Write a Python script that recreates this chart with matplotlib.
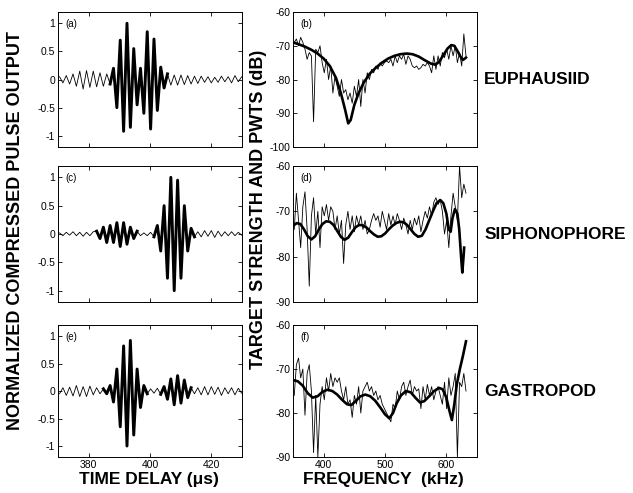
import matplotlib
matplotlib.use("Agg")
import matplotlib.pyplot as plt
import numpy as np

plt.rcParams['font.family'] = ['Liberation Sans', 'DejaVu Sans']
plt.rcParams['axes.unicode_minus'] = False
plt.rcParams['xtick.direction'] = 'in'
plt.rcParams['ytick.direction'] = 'in'
plt.rcParams['xtick.top'] = True
plt.rcParams['ytick.right'] = True

# ---- compressed pulse output (extrema every half cycle) ----
t_delay = 370.5 + 1.1 * np.arange(55)

pulse_a = [0.05, -0.06, 0.07, -0.08, 0.1, -0.12, 0.15, -0.17, 0.16, -0.14, 0.15, -0.13, 0.12, -0.12, 0.1, -0.08,
           0.2, -0.5, 0.7, -0.92, 1.0, -0.85, 0.55, -0.45, 0.2, -0.6, 0.85, -0.88, 0.72, -0.55, 0.22, -0.15,
           0.1, -0.1, 0.08, -0.1, 0.08, -0.09, 0.07, -0.08, 0.06, -0.07, 0.06, -0.05, 0.05, -0.06, 0.04, -0.05,
           0.06, -0.04, 0.05, -0.06, 0.07, -0.04, 0.05]
pulse_c = [0.02, -0.03, 0.03, -0.02, 0.04, -0.03, 0.03, -0.04, 0.03, -0.03, 0.04,
           0.05, -0.08, 0.12, -0.15, 0.15, -0.15, 0.2, -0.22, 0.2, -0.18, 0.12, -0.08, 0.05,
           -0.03, 0.02, -0.03, 0.03, -0.05,
           0.15, -0.3, 0.5, -0.78, 1.0, -1.0, 0.95, -0.78, 0.5, -0.3, 0.1, -0.05,
           0.04, -0.05, 0.06, -0.04, 0.06, -0.06, 0.05, -0.04, 0.04, -0.03, 0.04, -0.03, 0.03, -0.02]
pulse_e = [-0.05, 0.06, -0.08, 0.07, -0.09, 0.1, -0.1, 0.08, -0.1, 0.09, -0.07, 0.06, -0.05, 0.04,
           -0.05, 0.1, -0.2, 0.4, -0.65, 0.82, -1.0, 0.92, -0.8, 0.4, -0.3, 0.1, -0.05,
           0.04, -0.04, 0.05, -0.06,
           0.08, -0.15, 0.22, -0.25, 0.28, -0.22, 0.2, -0.12, 0.06,
           -0.05, 0.06, -0.07, 0.08, -0.07, 0.08, -0.06, 0.07, -0.08, 0.06, -0.05, 0.06, -0.07, 0.05, -0.04]
# index ranges drawn with the heavy line
thick_a = [(15, 32)]
thick_c = [(11, 23), (28, 40)]
thick_e = [(13, 26), (30, 39)]

# ---- target strength: measured (thin) ----
f_meas = 352 + 3.5 * np.arange(81)
ts_b = [-69, -68, -70, -67.5, -69, -71, -74, -72, -73, -92.5, -71, -72, -70, -75, -78, -74, -80, -76, -84, -79,
        -82, -85, -80, -84, -83, -86, -84, -87, -82, -85, -80, -88, -80, -84, -78, -80, -77, -78, -76, -77,
        -75, -76, -75, -74.5, -75, -74, -76, -73, -75, -73, -74, -72.5, -75.5, -73, -74, -76, -76.5, -76, -77, -76.5,
        -75.5, -76, -75, -76, -78, -73, -77, -73, -76, -72, -73.5, -71, -74, -70, -73, -70, -75, -72, -76, -66.5,
        -73]
ts_d = [-74, -66, -72, -78, -69, -65.7, -74, -86.5, -71, -67, -75, -70, -78, -69, -71, -68.5, -72, -69, -70, -74,
        -71, -75, -72, -81.5, -73, -70, -74, -71, -74.5, -71, -73, -71, -74, -72, -75, -74, -72, -70.5, -72, -71,
        -73.5, -70, -72, -74, -70.5, -73, -71, -73, -70.5, -72, -74, -71.5, -73, -75, -72, -74, -71.5, -73, -71, -74.5,
        -72, -70, -71.5, -69, -71, -68, -67, -68.5, -67.5, -70, -75, -72, -78, -71, -66, -69, -72, -60, -67, -64,
        -66]
ts_f = [-76, -69, -67.5, -72, -70, -80.5, -71, -69, -75, -89, -76, -90, -78, -74, -77, -72, -75, -71, -74, -72,
        -73, -72, -75, -77, -74, -78, -77, -81, -76, -78, -74, -80, -75, -74, -73, -75, -74, -76, -75, -77,
        -76, -78, -79, -80, -81, -82, -78, -79, -75, -77, -74, -73, -76, -74, -72.5, -76, -74, -75, -74.5, -79,
        -74, -77, -73.5, -76, -74, -77, -75, -74, -76, -78, -73, -79, -72, -76, -74, -71, -90, -73, -74, -71,
        -75]

# ---- target strength: model (thick) ----
f_mod_b = [350, 360, 370, 380, 390, 400, 410, 420, 428, 435, 440, 444, 450, 457, 465, 475, 485, 495, 505, 515,
           525, 535, 545, 555, 565, 575, 582, 588, 595, 602, 608, 613, 618, 623, 627, 630, 632]
mod_b = [-69, -69.6, -70.3, -71.2, -72.3, -73.8, -76, -79.5, -84, -89, -93, -92, -87.5, -84, -81, -78.3, -76.5, -75, -73.8, -73,
         -72.5, -72.3, -72.5, -73.2, -74.3, -75.3, -75.6, -74.8, -72.8, -70.8, -69.8, -70, -71.5, -73.2, -74.2, -73.8, -73.5]
f_mod_d = [350, 356, 362, 368, 374, 380, 386, 392, 398, 404, 410, 416, 422, 428, 434, 440, 446, 452, 458, 464,
           470, 476, 482, 488, 494, 500, 506, 512, 518, 524, 530, 536, 542, 548, 554, 560, 566, 572, 578, 584,
           590, 595, 600, 604, 607, 610, 614, 618, 621, 624, 626, 628, 629]
mod_d = [-73.2, -72.6, -72.8, -74, -75.5, -76.2, -75.5, -74, -72.8, -72.2, -72.3, -73, -74.3, -75.6, -76.3, -75.8, -74.6, -73.5, -73, -73.1,
         -73.6, -74.4, -75.1, -75.6, -75.5, -74.9, -74, -73.2, -72.6, -72.3, -72.4, -73, -74, -75, -75.6, -75.4, -74, -72, -70, -68.2,
         -67.5, -68.2, -70.5, -74, -74.5, -71.5, -69.5, -70.5, -74, -80, -83.5, -80, -78]
f_mod_f = [350, 358, 366, 374, 382, 390, 398, 406, 414, 422, 430, 438, 445, 452, 460, 468, 476, 484, 492, 500,
           507, 513, 519, 526, 534, 542, 550, 557, 564, 572, 580, 588, 594, 600, 605, 609, 613, 617, 622, 627, 632]
mod_f = [-72.5, -72.8, -73.8, -75.5, -76.5, -76.2, -75.2, -74.7, -75, -75.8, -77, -78, -78.2, -77.3, -76.2, -75.8, -76.2, -77.2, -78.7, -80.3,
         -81.2, -80, -77.8, -76, -75, -75.3, -76.6, -77.6, -77.3, -76.2, -75, -74.3, -74.6, -76.5, -79.5, -81.6, -78, -73.5, -70, -67, -63.7]

species = ['EUPHAUSIID', 'SIPHONOPHORE', 'GASTROPOD']

fig = plt.figure(figsize=(6.33, 4.93), dpi=100)

rows = [(0.7018, 0.2738), (0.3874, 0.2759), (0.073, 0.2677)]
left_x, right_x, w = 0.0916, 0.4629, 0.2907

pulses = [(pulse_a, thick_a, '(a)'), (pulse_c, thick_c, '(c)'), (pulse_e, thick_e, '(e)')]
spectra = [(ts_b, f_mod_b, mod_b, '(b)', (-100, -60)),
           (ts_d, f_mod_d, mod_d, '(d)', (-90, -60)),
           (ts_f, f_mod_f, mod_f, '(f)', (-90, -60))]

for k, (b, h) in enumerate(rows):
    # left column
    ax = fig.add_axes([left_x, b, w, h])
    vals, segs, lab = pulses[k]
    ax.plot(t_delay, vals, color='black', lw=0.6)
    for i0, i1 in segs:
        ax.plot(t_delay[i0:i1 + 1], vals[i0:i1 + 1], color='black', lw=2.1)
    ax.set_xlim(370, 430)
    ax.set_ylim(-1.2, 1.2)
    ax.set_xticks([380, 400, 420])
    ax.set_yticks([-1, -0.5, 0, 0.5, 1])
    ax.set_yticklabels(['-1', '-0.5', '0', '0.5', '1'])
    if k < 2:
        ax.set_xticklabels([])
    ax.text(0.04, 0.95, lab, transform=ax.transAxes, fontsize=7, va='top')
    ax.tick_params(labelsize=7.5, length=3, width=0.6, pad=2)
    for s in ax.spines.values():
        s.set_linewidth(0.7)

    # right column
    ax = fig.add_axes([right_x, b, w, h])
    meas, fm, mod, lab, ylim = spectra[k]
    ax.plot(f_meas, meas, color='black', lw=0.6)
    ax.plot(fm, mod, color='black', lw=1.9)
    ax.set_xlim(350, 650)
    ax.set_ylim(*ylim)
    ax.set_xticks([400, 500, 600])
    ax.set_yticks(np.arange(ylim[0], ylim[1] + 1, 10))
    if k < 2:
        ax.set_xticklabels([])
    ax.text(0.04, 0.95, lab, transform=ax.transAxes, fontsize=7, va='top')
    ax.tick_params(labelsize=7.5, length=3, width=0.6, pad=2)
    for s in ax.spines.values():
        s.set_linewidth(0.7)

    fig.text(0.765, b + h * 0.5, species[k], fontsize=12.5, fontweight='bold',
             ha='left', va='center')

fig.text(0.024, 0.533, 'NORMALIZED COMPRESSED PULSE OUTPUT', rotation=90,
         fontsize=13, fontweight='bold', ha='center', va='center')
fig.text(0.408, 0.575, 'TARGET STRENGTH AND PWTS (dB)', rotation=90,
         fontsize=13, fontweight='bold', ha='center', va='center')
fig.text(0.235, 0.027, 'TIME DELAY (\u03bcs)', fontsize=12.5, fontweight='bold',
         ha='center', va='center')
fig.text(0.606, 0.027, 'FREQUENCY  (kHz)', fontsize=12.5, fontweight='bold',
         ha='center', va='center')

fig.savefig('out.png', dpi=100, facecolor='white')
